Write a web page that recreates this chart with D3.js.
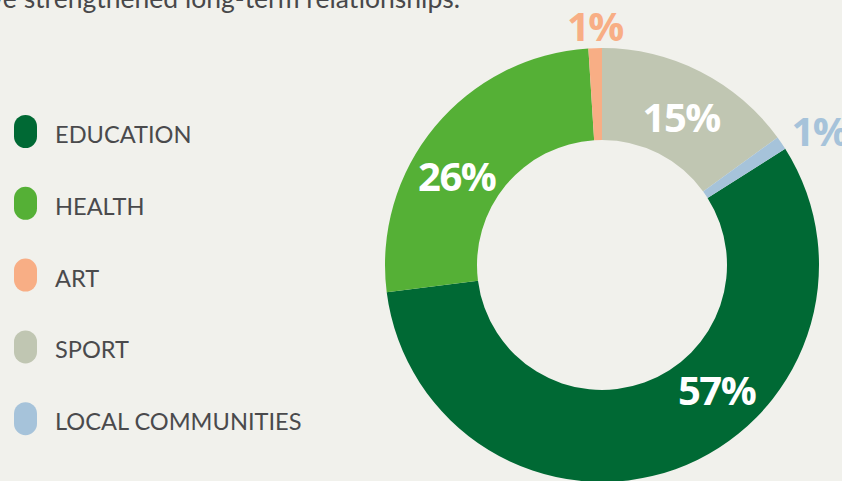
<!DOCTYPE html>
<html>
<head>
<meta charset="utf-8">
<script src="https://cdn.jsdelivr.net/npm/d3@7"></script>
<style>
  html, body { margin: 0; padding: 0; background: #f1f1ec; overflow: hidden; }
  svg { display: block; }
</style>
</head>
<body>
<script>
var width = 842
var height = 481

// data, in legend order
var categories = ["EDUCATION", "HEALTH", "ART", "SPORT", "LOCAL COMMUNITIES"]
var values = [57, 26, 1, 15, 1]
var labels = ["57%", "26%", "1%", "15%", "1%"]
var colors = ["#006934", "#55b036", "#f8ae85", "#c0c6b2", "#a6c3da"]

// label placement (degrees clockwise from 12 o'clock, distance from centre)
var label_angle = [137.6, 301.3, -1.7, 28.3, 58.5]
var label_radius = [170, 170, 239, 167, 255]
var label_fill = ["#fff", "#fff", "#f8ae85", "#fff", "#a6c3da"]

var cx = 602, cy = 265
var outer_r = 217, inner_r = 125

var svg = d3.select("body").append("svg")
.attr("width", width)
.attr("height", height)

// cut-off intro sentence at the top
svg.append("text")
.attr("x", 460)
.attr("y", 8)
.attr("text-anchor", "end")
.style("font-family", "Lato, 'Open Sans', sans-serif")
.style("font-size", "26.5px")
.style("fill", "#48484a")
.text("Our sponsorships have strengthened long-term relationships.")

// slices start where sport + local communities end, so sport sits at 12 o'clock
var offset = (values[3] + values[4]) / d3.sum(values) * 2 * Math.PI

var pie = d3.pie()
.sort(null)
.value(function(d) { return d })
.startAngle(offset)
.endAngle(offset + 2 * Math.PI)

var arc = d3.arc()
.innerRadius(inner_r)
.outerRadius(outer_r)

var g = svg.append("g")
.attr("transform", "translate(" + cx + "," + cy + ")")

g.selectAll("path")
.data(pie(values))
.enter().append("path")
.attr("d", arc)
.style("fill", function(d, i) { return colors[i] })

g.selectAll("text.pct")
.data(labels)
.enter().append("text")
.attr("class", "pct")
.attr("x", function(d, i) { return label_radius[i] * Math.sin(label_angle[i] * Math.PI / 180) })
.attr("y", function(d, i) { return -label_radius[i] * Math.cos(label_angle[i] * Math.PI / 180) })
.attr("dy", "0.36em")
.attr("text-anchor", "middle")
.style("font-family", "'Open Sans', sans-serif")
.style("font-weight", "bold")
.style("font-size", "40px")
.style("letter-spacing", "-1.5px")
.style("fill", function(d, i) { return label_fill[i] })
.text(function(d) { return d })

// legend
var legend = svg.append("g")
.selectAll("g")
.data(categories)
.enter().append("g")
.attr("transform", function(d, i) { return "translate(14," + (115 + i * 71.8) + ")" })

legend.append("rect")
.attr("width", 23)
.attr("height", 33)
.attr("rx", 11.5)
.attr("ry", 11.5)
.style("fill", function(d, i) { return colors[i] })

legend.append("text")
.attr("x", 41)
.attr("y", 28)
.style("font-family", "Lato, sans-serif")
.style("font-size", "23.6px")
.style("fill", "#4a4a4c")
.text(function(d) { return d })
</script>
</body>
</html>
